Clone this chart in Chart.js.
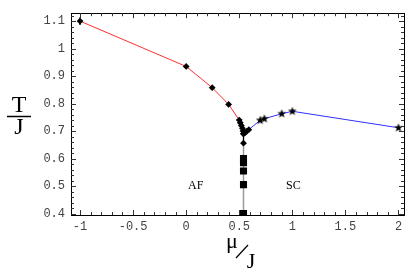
<!DOCTYPE html>
<html>
<head>
<meta charset="utf-8">
<script src="https://cdn.jsdelivr.net/npm/chart.js@4.4.1/dist/chart.umd.min.js"></script>
<style>
  html, body { margin: 0; padding: 0; background: #fff; }
  #wrap { width: 415px; height: 272px; }
</style>
</head>
<body>
<div id="wrap"><canvas id="chart" width="415" height="272"></canvas></div>
<script>
// tick labels
const xTicks = [-1, -0.5, 0, 0.5, 1, 1.5, 2];
const xTickLabels = ['-1', '-0.5', '0', '0.5', '1', '1.5', '2'];
const yTicks = [0.4, 0.5, 0.6, 0.7, 0.8, 0.9, 1, 1.1];
const yTickLabels = ['0.4', '0.5', '0.6', '0.7', '0.8', '0.9', '1', '1.1'];

// AF boundary (red, diamonds with error bars)
const afMu  = [-1, 0, 0.245, 0.40, 0.50, 0.51, 0.52, 0.53, 0.535, 0.54];
const afT   = [1.10, 0.935, 0.858, 0.797, 0.740, 0.730, 0.720, 0.710, 0.700, 0.690];
const afErr = [0.014, 0.006, 0.005, 0.005, 0.006, 0.006, 0.006, 0.006, 0.006, 0.006];

// points right of the cusp (black diamonds)
const cuspMu = [0.555, 0.57, 0.59];
const cuspT  = [0.694, 0.699, 0.705];

// SC boundary (blue, stars)
const scMu = [0.54, 0.697, 0.737, 0.90, 1.0, 2.0];
const scT  = [0.690, 0.739, 0.745, 0.763, 0.772, 0.712];

// vertical branch
const stemMu = [0.54, 0.54];
const stemT  = [0.690, 0.656];
const sqMu = [0.54, 0.54, 0.54, 0.54, 0.54, 0.54];
const sqT  = [0.656, 0.600, 0.585, 0.555, 0.505, 0.400];

const regionLabels = ['AF', 'SC'];
const regionMu = [0.09, 1.01];
const regionT  = [0.50, 0.50];

const pts = (xs, ys) => xs.map((x, i) => ({ x, y: ys[i] }));

// filled star marker
function makeStar(r) {
    const c = document.createElement('canvas');
    const s = Math.ceil(r * 2 + 2);
    c.width = s; c.height = s;
    const g = c.getContext('2d');
    g.beginPath();
    for (let i = 0; i < 10; i++) {
        const rad = i % 2 === 0 ? r : r * 0.42;
        const a = -Math.PI / 2 + i * Math.PI / 5;
        const px = s / 2 + rad * Math.cos(a), py = s / 2 + rad * Math.sin(a);
        if (i === 0) g.moveTo(px, py); else g.lineTo(px, py);
    }
    g.closePath();
    g.fillStyle = '#000';
    g.fill();
    return c;
}
const star = makeStar(4.6);

const frame = {
    id: 'frame',
    beforeDatasetsDraw(chart) {
        const ctx = chart.ctx, xs = chart.scales.x, ys = chart.scales.y;
        ctx.save();
        ctx.strokeStyle = '#000';
        ctx.lineWidth = 1.3;
        afMu.forEach((m, i) => {
            const x = xs.getPixelForValue(m);
            ctx.beginPath();
            ctx.moveTo(x, ys.getPixelForValue(afT[i] - afErr[i]));
            ctx.lineTo(x, ys.getPixelForValue(afT[i] + afErr[i]));
            ctx.stroke();
        });
        ctx.restore();
    },
    afterDraw(chart) {
        const ctx = chart.ctx, a = chart.chartArea;
        const xs = chart.scales.x, ys = chart.scales.y;
        ctx.save();
        ctx.strokeStyle = '#000';
        ctx.lineWidth = 1;
        ctx.strokeRect(Math.round(a.left) + 0.5, Math.round(a.top) + 0.5,
            Math.round(a.right - a.left), Math.round(a.bottom - a.top));
        ctx.strokeStyle = '#333';
        ctx.beginPath();
        for (let k = -10; k <= 20; k++) {
            const v = k / 10;
            const x = Math.round(xs.getPixelForValue(v)) + 0.5;
            if (x < a.left || x > a.right) continue;
            const len = k % 5 === 0 ? 5 : 3;
            ctx.moveTo(x, a.bottom); ctx.lineTo(x, a.bottom - len);
            ctx.moveTo(x, a.top); ctx.lineTo(x, a.top + len);
        }
        for (let k = 19; k <= 57; k++) {
            const v = k / 50;
            const y = Math.round(ys.getPixelForValue(v)) + 0.5;
            if (y < a.top || y > a.bottom) continue;
            const len = k % 5 === 0 ? 5 : 3;
            ctx.moveTo(a.left, y); ctx.lineTo(a.left + len, y);
            ctx.moveTo(a.right, y); ctx.lineTo(a.right - len, y);
        }
        ctx.stroke();

        // region labels
        ctx.fillStyle = '#000';
        ctx.font = '12px "Liberation Serif"';
        ctx.textAlign = 'center';
        ctx.textBaseline = 'middle';
        regionLabels.forEach((t, i) => {
            ctx.fillText(t, xs.getPixelForValue(regionMu[i]), ys.getPixelForValue(regionT[i]));
        });

        // axis titles
        ctx.font = '24px "Liberation Serif"';
        ctx.textBaseline = 'alphabetic';
        ctx.fillText('T', 19, 112);
        ctx.fillText('J', 19, 134);
        ctx.lineWidth = 1.5;
        ctx.strokeStyle = '#000';
        ctx.beginPath();
        ctx.moveTo(7, 116.5); ctx.lineTo(31, 116.5);
        ctx.stroke();

        ctx.font = '22px "Liberation Serif"';
        ctx.fillText('\u03bc', 232, 248);
        ctx.fillText('J', 251, 268);
        ctx.lineWidth = 1.2;
        ctx.beginPath();
        ctx.moveTo(236, 258); ctx.lineTo(248, 245);
        ctx.stroke();
        ctx.restore();
    }
};

const tickFont = { family: '"Liberation Mono", monospace', size: 12 };

new Chart(document.getElementById('chart').getContext('2d'), {
    type: 'scatter',
    data: {
        datasets: [
            {
                data: pts(afMu, afT), showLine: true,
                borderColor: '#ff3030', borderWidth: 1,
                pointStyle: 'rectRot', pointRadius: 3.4,
                pointBackgroundColor: '#000', pointBorderColor: '#000', pointBorderWidth: 0
            },
            {
                data: pts(cuspMu, cuspT), showLine: false,
                pointStyle: 'rectRot', pointRadius: 3.4,
                pointBackgroundColor: '#000', pointBorderColor: '#000', pointBorderWidth: 0
            },
            {
                data: pts(scMu, scT), showLine: true,
                borderColor: '#3030ff', borderWidth: 1,
                pointStyle: scMu.map((m, i) => i === 0 ? 'rectRot' : star),
                pointRadius: scMu.map((m, i) => i === 0 ? 3.4 : 4.6),
                pointBackgroundColor: '#000', pointBorderColor: '#000', pointBorderWidth: 0
            },
            {
                data: pts(stemMu, stemT), showLine: true,
                borderColor: '#000', borderWidth: 1.3, pointRadius: 0
            },
            {
                data: pts(sqMu, sqT), showLine: true,
                borderColor: '#999', borderWidth: 1.5,
                pointStyle: sqT.map((t, i) => i === 0 ? 'rectRot' : 'rect'),
                pointRadius: sqT.map((t, i) => i === 0 ? 3.4 : 5),
                pointBackgroundColor: '#000', pointBorderColor: '#000', pointBorderWidth: 0
            }
        ]
    },
    options: {
        responsive: false,
        animation: false,
        devicePixelRatio: 1,
        layout: { padding: { top: 11, right: 11, left: 0, bottom: 0 } },
        plugins: { legend: { display: false }, tooltip: { enabled: false } },
        scales: {
            x: {
                type: 'linear', min: -1.085, max: 2.052,
                grid: { display: false, drawTicks: false }, border: { display: false },
                afterBuildTicks: s => { s.ticks = xTicks.map(v => ({ value: v })); },
                afterFit: s => { s.height = 57; },
                ticks: {
                    font: tickFont, color: '#444', padding: 5, maxRotation: 0,
                    callback: (v, i) => xTickLabels[i]
                }
            },
            y: {
                type: 'linear', min: 0.3946, max: 1.1288,
                grid: { display: false, drawTicks: false }, border: { display: false },
                afterBuildTicks: s => { s.ticks = yTicks.map(v => ({ value: v })); },
                afterFit: s => { s.width = 71; },
                ticks: {
                    font: tickFont, color: '#444', padding: 6,
                    callback: (v, i) => yTickLabels[i]
                }
            }
        }
    },
    plugins: [frame]
});
</script>
</body>
</html>
